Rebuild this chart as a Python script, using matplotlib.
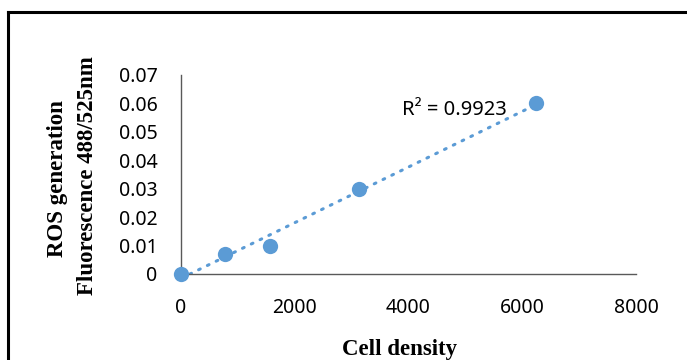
import numpy as np
import matplotlib.pyplot as plt
from matplotlib.lines import Line2D
from matplotlib.ticker import FuncFormatter

# data
cell_density = [0, 781.25, 1562.5, 3125, 6250]
ros_fluorescence = [0, 0.007, 0.01, 0.03, 0.06]
r2_label = "R² = 0.9923"
x_ticks = [0, 2000, 4000, 6000, 8000]
y_ticks = [0, 0.01, 0.02, 0.03, 0.04, 0.05, 0.06, 0.07]

blue = '#5B9BD5'
tick_font = 'Noto Sans'
label_font = 'Liberation Serif'

fig = plt.figure(figsize=(6.87, 3.6), dpi=100)
ax = fig.add_axes([0.2635, 0.239, 0.6623, 0.5528])

# linear trendline
slope, intercept = np.polyfit(cell_density, ros_fluorescence, 1)
xfit = np.array([0, max(cell_density)])
ax.plot(xfit, slope * xfit + intercept, color=blue, lw=2.2,
        linestyle=(0, (0.6, 2.6)), dash_capstyle='round', zorder=2)

ax.plot(cell_density, ros_fluorescence, 'o', color=blue, ms=11,
        markeredgewidth=0, zorder=3, clip_on=False)

ax.set_xlim(0, 8000)
ax.set_ylim(0, 0.07)
ax.set_xticks(x_ticks)
ax.set_yticks(y_ticks)
ax.yaxis.set_major_formatter(FuncFormatter(lambda v, p: f"{v:g}"))
ax.tick_params(length=0, labelsize=14, pad=17)
for lab in ax.get_xticklabels() + ax.get_yticklabels():
    lab.set_fontfamily(tick_font)

for s in ['top', 'right']:
    ax.spines[s].set_visible(False)
for s in ['left', 'bottom']:
    ax.spines[s].set_color('#595959')
    ax.spines[s].set_linewidth(1.0)

ax.text(3880, 0.0578, r2_label, fontsize=14.5, family=tick_font, va='center')

fig.text(0.084, 0.503, 'ROS generation', rotation=90, ha='center', va='center',
         family=label_font, weight='bold', fontsize=16.5)
fig.text(0.128, 0.511, 'Fluorescence 488/525nm', rotation=90, ha='center', va='center',
         family=label_font, weight='bold', fontsize=16.5)
fig.text(0.582, 0.03, 'Cell density', ha='center', va='center',
         family=label_font, weight='bold', fontsize=16.5)

# outer frame (only left and top edges visible in the crop)
fig.add_artist(Line2D([0.011, 0.011], [0, 0.966], color='black', lw=2.2,
                      transform=fig.transFigure))
fig.add_artist(Line2D([0.011, 1.0], [0.966, 0.966], color='black', lw=2.2,
                      transform=fig.transFigure))

fig.savefig('out.png', dpi=100)
